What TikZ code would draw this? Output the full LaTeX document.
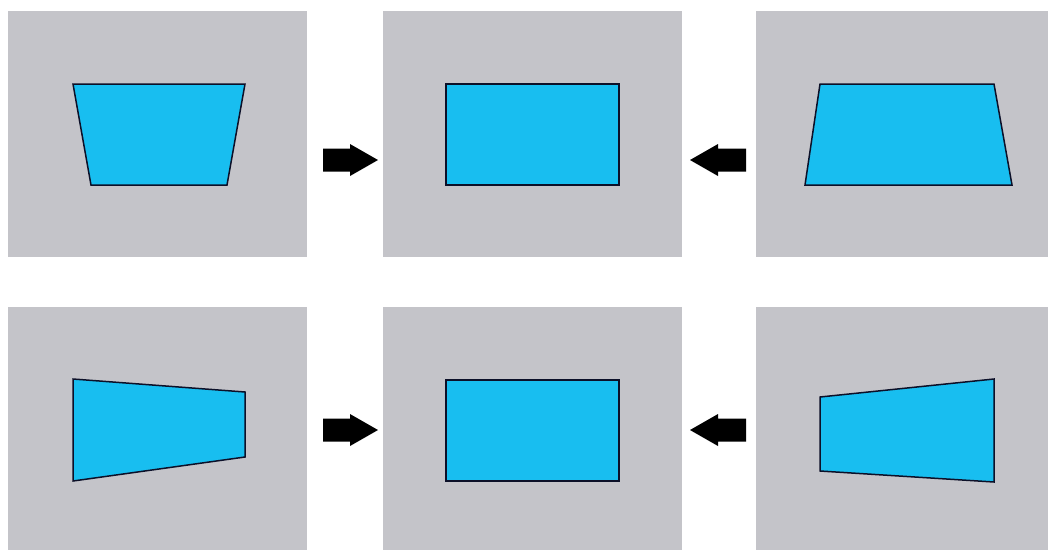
\documentclass[tikz,border=0pt]{standalone}
\begin{document}
\definecolor{panelgray}{RGB}{196,196,201}
\definecolor{screencyan}{RGB}{24,190,240}
\definecolor{edge}{RGB}{12,16,40}
\begin{tikzpicture}[x=1pt,y=-1pt,
  panel/.style={fill=panelgray,draw=none},
  screen/.style={fill=screencyan,draw=edge,line width=1.5pt,line join=miter},
  blockarrow/.style={fill=black,draw=none}]
\useasboundingbox (0,0) rectangle (1052,550);
\fill[white] (0,0) rectangle (1052,550);

% top row panels
\fill[panel] (8,11) rectangle (307,257);
\fill[panel] (383,11) rectangle (682,257);
\fill[panel] (756,11) rectangle (1048,257);
% bottom row panels
\fill[panel] (8,307) rectangle (307,550);
\fill[panel] (383,307) rectangle (682,550);
\fill[panel] (756,307) rectangle (1048,550);

% top row screens
\draw[screen] (73,84) -- (245,84) -- (227,185) -- (91,185) -- cycle;
\draw[screen] (446,84) -- (619,84) -- (619,185) -- (446,185) -- cycle;
\draw[screen] (820,84) -- (994,84) -- (1012,185) -- (805,185) -- cycle;
% bottom row screens
\draw[screen] (73,379) -- (245,392) -- (245,457) -- (73,481) -- cycle;
\draw[screen] (446,380) -- (619,380) -- (619,481) -- (446,481) -- cycle;
\draw[screen] (820,397) -- (994,379) -- (994,482) -- (820,471) -- cycle;

% correction arrows
\foreach \yc in {160,430}{
  \fill[blockarrow] (323,\yc-11.5) -- (350,\yc-11.5) -- (350,\yc-16) -- (378,\yc)
    -- (350,\yc+16) -- (350,\yc+11.5) -- (323,\yc+11.5) -- cycle;
  \fill[blockarrow] (746,\yc-11.5) -- (718,\yc-11.5) -- (718,\yc-16) -- (690,\yc)
    -- (718,\yc+16) -- (718,\yc+11.5) -- (746,\yc+11.5) -- cycle;
}
\end{tikzpicture}
\end{document}
